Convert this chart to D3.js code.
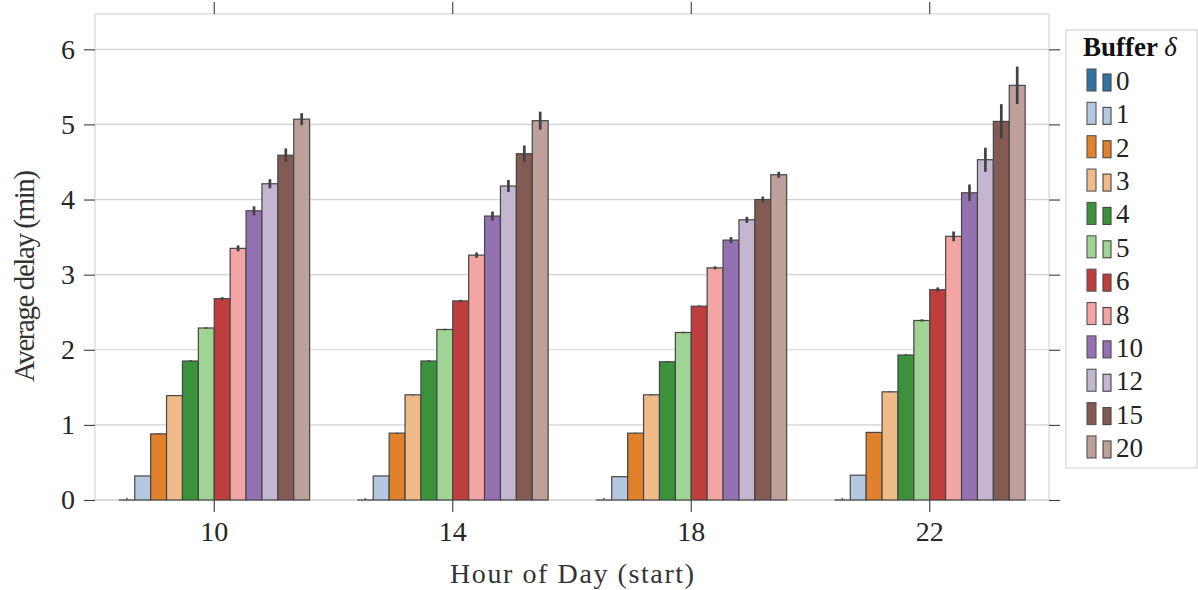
<html>
<head>
    <meta charset="utf-8"/>
    <script src="https://d3js.org/d3.v7.min.js"></script>
</head>
<style>
    body { margin: 0; background: #fff; }
    svg, svg text { font-family: "Liberation Serif", "DejaVu Serif", serif; }
</style>
<body>
<svg class="main" width="1198" height="590"></svg>
<script>
    var hours = ["10", "14", "18", "22"]
    var buffers = ["0", "1", "2", "3", "4", "5", "6", "8", "10", "12", "15", "20"]

    var delay10 = [0, 0.32, 0.88, 1.39, 1.85, 2.29, 2.68, 3.35, 3.85, 4.21, 4.59, 5.07]
    var delay14 = [0, 0.32, 0.89, 1.40, 1.85, 2.27, 2.65, 3.26, 3.78, 4.18, 4.61, 5.05]
    var delay18 = [0, 0.31, 0.89, 1.40, 1.84, 2.23, 2.58, 3.09, 3.46, 3.73, 4.00, 4.33]
    var delay22 = [0, 0.33, 0.90, 1.44, 1.93, 2.39, 2.80, 3.51, 4.09, 4.53, 5.04, 5.52]

    // half width of the error bars
    var err10 = [0, 0, 0.005, 0.005, 0.01, 0.01, 0.02, 0.04, 0.06, 0.06, 0.09, 0.08]
    var err14 = [0, 0, 0.005, 0.005, 0.01, 0.01, 0.015, 0.035, 0.06, 0.08, 0.11, 0.12]
    var err18 = [0, 0, 0.005, 0.005, 0.01, 0.01, 0.01, 0.02, 0.04, 0.04, 0.04, 0.04]
    var err22 = [0, 0, 0.005, 0.005, 0.01, 0.015, 0.03, 0.065, 0.11, 0.16, 0.23, 0.25]

    var yTicks = [0, 1, 2, 3, 4, 5, 6]

    var tab20 = ["#1f77b4", "#aec7e8", "#ff7f0e", "#ffbb78", "#2ca02c", "#98df8a",
        "#d62728", "#ff9896", "#9467bd", "#c5b0d5", "#8c564b", "#c49c94"]

    var delays = [delay10, delay14, delay18, delay22]
    var errs = [err10, err14, err18, err22]

    var rows = []
    hours.forEach(function (h, i) {
        buffers.forEach(function (b, j) {
            rows.push({hour: h, buffer: b, value: delays[i][j], err: errs[i][j]})
        })
    })

    // seaborn style desaturation (0.75)
    var colors = tab20.map(function (c) {
        var hc = d3.hsl(c)
        hc.s = hc.s * 0.75
        return hc.formatHex()
    })
    var color = d3.scaleOrdinal().domain(buffers).range(colors)

    var pLeft = 95, pRight = 1049, pTop = 14, pBottom = 500
    var svg = d3.select("svg.main")

    var x = d3.scaleBand().domain(hours).range([pLeft, pRight]).padding(0)
    var xInner = d3.scaleBand().domain(buffers)
        .range([x.bandwidth() * 0.1, x.bandwidth() * 0.9])
    var y = d3.scaleLinear().domain([0, 6.47]).range([pBottom, pTop])

    var grid = svg.append("g")
    grid.selectAll("line").data(yTicks).enter().append("line")
        .attr("x1", pLeft).attr("x2", pRight)
        .attr("y1", function (d) { return y(d) }).attr("y2", function (d) { return y(d) })
        .attr("stroke", "#d2d2d2").attr("stroke-width", 1.2)

    // frame
    svg.append("rect")
        .attr("x", pLeft).attr("y", pTop)
        .attr("width", pRight - pLeft).attr("height", pBottom - pTop)
        .attr("fill", "none").attr("stroke", "#d6d6d6").attr("stroke-width", 1.2)

    function styleAxis(g) {
        g.attr("font-family", null).attr("font-size", null)
        g.select(".domain").remove()
        g.selectAll(".tick line").attr("stroke", "#3a3a3a").attr("stroke-width", 1.1)
        g.selectAll(".tick text").attr("fill", "#262626")
            .style("font-size", "28px")
    }

    svg.append("g").attr("transform", "translate(" + pLeft + ",0)")
        .call(d3.axisLeft(y).tickValues(yTicks).tickFormat(d3.format("d")).tickSize(11).tickPadding(9))
        .call(styleAxis)
    svg.append("g").attr("transform", "translate(" + pRight + ",0)")
        .call(d3.axisRight(y).tickValues(yTicks).tickSize(11).tickFormat(""))
        .call(styleAxis)
    svg.append("g").attr("transform", "translate(0," + pBottom + ")")
        .call(d3.axisBottom(x).tickSize(12).tickPadding(9))
        .call(styleAxis)
    svg.append("g").attr("transform", "translate(0," + pTop + ")")
        .call(d3.axisTop(x).tickSize(12).tickFormat(""))
        .call(styleAxis)

    var bars = svg.append("g")
    bars.selectAll("rect").data(rows.filter(function (d) { return d.value > 0 }))
        .enter().append("rect")
        .attr("x", function (d) { return x(d.hour) + xInner(d.buffer) })
        .attr("width", xInner.bandwidth())
        .attr("y", function (d) { return y(d.value) })
        .attr("height", function (d) { return y(0) - y(d.value) })
        .attr("fill", function (d) { return color(d.buffer) })
        .attr("stroke", "#454545").attr("stroke-width", 1.2)

    // zero-height bars show up as a flat edge on the baseline
    var zeros = rows.filter(function (d) { return d.value === 0 })
    bars.selectAll("line.zero").data(zeros).enter().append("line").attr("class", "zero")
        .attr("x1", function (d) { return x(d.hour) + xInner(d.buffer) })
        .attr("x2", function (d) { return x(d.hour) + xInner(d.buffer) + xInner.bandwidth() })
        .attr("y1", y(0)).attr("y2", y(0))
        .attr("stroke", "#555").attr("stroke-width", 1.4)
    bars.selectAll("line.zerr").data(zeros).enter().append("line").attr("class", "zerr")
        .attr("x1", function (d) { return x(d.hour) + xInner(d.buffer) + xInner.bandwidth() / 2 })
        .attr("x2", function (d) { return x(d.hour) + xInner(d.buffer) + xInner.bandwidth() / 2 })
        .attr("y1", y(0) - 2).attr("y2", y(0))
        .attr("stroke", "#555").attr("stroke-width", 1.5)

    bars.selectAll("line.err").data(rows.filter(function (d) { return d.err > 0 }))
        .enter().append("line").attr("class", "err")
        .attr("x1", function (d) { return x(d.hour) + xInner(d.buffer) + xInner.bandwidth() / 2 })
        .attr("x2", function (d) { return x(d.hour) + xInner(d.buffer) + xInner.bandwidth() / 2 })
        .attr("y1", function (d) { return y(d.value - d.err) })
        .attr("y2", function (d) { return y(d.value + d.err) })
        .attr("stroke", "#424242").attr("stroke-width", 2.7)

    // axis titles
    svg.append("text")
        .attr("x", (pLeft + pRight) / 2).attr("y", 583)
        .attr("text-anchor", "middle").attr("fill", "#333")
        .attr("textLength", 244).attr("lengthAdjust", "spacing")
        .style("font-size", "28px")
        .text("Hour of Day (start)")
    svg.append("text")
        .attr("transform", "translate(34,276) rotate(-90)")
        .attr("text-anchor", "middle").attr("fill", "#333")
        .attr("textLength", 212).attr("lengthAdjust", "spacing")
        .style("font-size", "29px")
        .text("Average delay (min)")

    // legend
    var lg = svg.append("g")
    lg.append("rect")
        .attr("x", 1066).attr("y", 30).attr("width", 131).attr("height", 438)
        .attr("fill", "#fff").attr("stroke", "#d6d6d6").attr("stroke-width", 1.2)
    var title = lg.append("text").attr("x", 1083).attr("y", 56)
        .attr("fill", "#111").style("font-size", "27px")
    title.append("tspan").attr("font-weight", "bold").text("Buffer ")
    title.append("tspan").attr("font-style", "italic").text("δ")

    var item = lg.selectAll("g.item").data(buffers).enter().append("g")
        .attr("class", "item")
        .attr("transform", function (d, i) { return "translate(0," + (80 + i * 33.36) + ")" })
    item.append("rect")
        .attr("x", 1087).attr("y", -11).attr("width", 9).attr("height", 22)
        .attr("fill", function (d) { return color(d) })
        .attr("stroke", "#555").attr("stroke-width", 1.1)
    item.append("rect")
        .attr("x", 1103).attr("y", -6).attr("width", 8).attr("height", 17)
        .attr("fill", function (d) { return color(d) })
        .attr("stroke", "#444").attr("stroke-width", 1.1)
    item.append("text")
        .attr("x", 1116).attr("y", 10)
        .attr("fill", "#222").style("font-size", "27px")
        .text(function (d) { return d })
</script>
</body>
</html>
